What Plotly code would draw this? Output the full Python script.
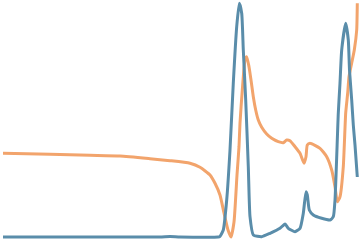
import plotly.graph_objects as go

# orange series (x, pixel-y)
orange_x = [3, 50, 90, 120, 150, 170, 190, 200, 210, 215, 220, 224, 228, 231, 234, 237, 239, 240, 242.3, 245, 246.7, 249, 251, 253.3, 255.7, 258.3, 261.7, 266.7, 271.7, 278.3, 283.3, 286.7, 290, 295, 300, 304, 306, 307.3, 310, 320, 326.7, 331.7, 335, 337.3, 340, 343.3, 345.7, 347.7, 349, 351.7, 354.3, 356.7, 357.3]
orange_py = [153.3, 154.3, 155.3, 156, 158.7, 160.7, 163.3, 167.3, 175, 183.3, 195, 213, 230, 237, 222, 175, 146.7, 123, 90, 60, 56.7, 66.7, 80, 96.7, 110, 120, 127.3, 134, 138.3, 141.7, 142.7, 140, 140.7, 146.7, 153.3, 163.3, 156.7, 145, 143.3, 148.3, 156.7, 170, 186.7, 201.7, 196.7, 166.7, 113, 93, 76.7, 63, 50, 30, 3.3]

blue_x = [3, 100, 160, 170, 180, 218, 220, 223.3, 226.7, 230, 233.3, 236.7, 239.3, 241.7, 243.3, 245.7, 248.3, 250, 253.3, 261.7, 270, 280, 285, 288.3, 295, 300, 303.3, 306, 307.3, 309.3, 313.3, 321.7, 330, 333.3, 335, 338.3, 340, 341.7, 345.7, 348.3, 349.5, 351.7, 353.3, 355, 357.3]
blue_py = [237, 237, 237, 236.5, 237, 237, 236.3, 230, 200, 150, 83, 26.7, 3.3, 13.3, 50, 100, 166.7, 216.7, 235, 236.7, 233.3, 228.3, 224, 228.3, 231.7, 228.3, 213.3, 191.7, 195, 210, 215, 218.3, 220, 216.7, 200, 113, 83, 50, 23.3, 40, 70, 100, 125, 145, 177]

orange_y = [240 - v for v in orange_py]
blue_y = [240 - v for v in blue_py]

fig = go.Figure()
fig.add_trace(go.Scatter(x=orange_x, y=orange_y, mode="lines",
                         line=dict(color="#F2A46C", width=3, shape="spline", smoothing=0.5)))
fig.add_trace(go.Scatter(x=blue_x, y=blue_y, mode="lines",
                         line=dict(color="#5A8DAA", width=3, shape="spline", smoothing=0.5)))
fig.update_layout(width=360, height=240, margin=dict(l=0, r=0, t=0, b=0),
                  paper_bgcolor="white", plot_bgcolor="white", showlegend=False,
                  xaxis=dict(range=[0, 360], visible=False, fixedrange=True),
                  yaxis=dict(range=[0, 240], visible=False, fixedrange=True))
fig.write_html("out.html", config={"displayModeBar": False})
